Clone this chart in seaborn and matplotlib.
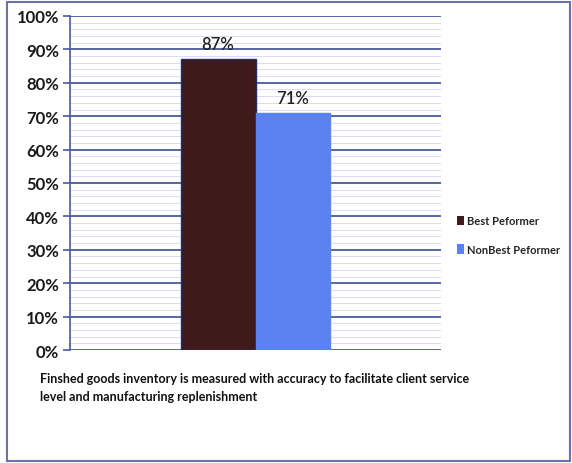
import matplotlib
matplotlib.use("Agg")
import matplotlib.pyplot as plt
import matplotlib.patches as mpatches
import numpy as np
import pandas as pd
import seaborn as sns

# Data
categories = ["Finished goods inventory"]
series = ["Best Peformer", "NonBest Peformer"]
values = [87, 71]
colors = ["#3f1a1a", "#5b82ee"]
y_ticks = list(range(0, 101, 10))
caption = ("Finshed goods inventory is measured with accuracy to facilitate client service\n"
           "level and manufacturing replenishment")

df = pd.DataFrame({"cat": categories * len(series), "series": series, "value": values})

sns.set_theme(style="white")
plt.rcParams["font.family"] = ["Lato", "DejaVu Sans"]

fig = plt.figure(figsize=(5.72, 4.64), dpi=100)
ax = fig.add_axes([70 / 572, 1 - 351 / 464, (441 - 70) / 572, (351 - 17) / 464])

sns.barplot(data=df, x="cat", y="value", hue="series", palette=colors,
            width=0.404, ax=ax, legend=False, saturation=1)

for patch, c in zip(ax.patches, colors):
    patch.set_facecolor(c)
    patch.set_edgecolor("#1f2f6a" if c == colors[0] else c)
    patch.set_linewidth(1.0)
    patch.set_zorder(3)

for cont in ax.containers:
    ax.bar_label(cont, labels=[f"{v:.0f}%" for v in cont.datavalues],
                 padding=5, fontsize=12, fontweight="semibold", color="#222222")

ax.set_xlim(-0.5, 0.5)
ax.set_ylim(0, 100)
ax.set_yticks(y_ticks)
ax.set_yticklabels([f"{t}%" for t in y_ticks], fontsize=12, fontweight="bold",
                   color="#1a1a1a")
ax.set_yticks(np.arange(0, 101, 2), minor=True)
ax.set_xticks([])
ax.set_xlabel("")
ax.set_ylabel("")

ax.grid(axis="y", which="minor", color="#d9dcf2", linewidth=0.7, zorder=0)
ax.grid(axis="y", which="major", color="#4a5b96", linewidth=1.3, zorder=1)
ax.set_axisbelow(True)

for side in ["top", "right", "bottom"]:
    ax.spines[side].set_visible(False)
ax.spines["left"].set_color("#4a5b96")
ax.spines["left"].set_linewidth(1.2)
ax.tick_params(axis="y", which="major", left=True, length=5, width=1.2,
               color="#4a5b96", pad=3)
ax.tick_params(axis="y", which="minor", left=False)

handles = [mpatches.Patch(facecolor=c, edgecolor="none", label=s)
           for c, s in zip(colors, series)]
fig.legend(handles=handles, loc="center left", bbox_to_anchor=(447 / 572, 1 - 236 / 464),
           frameon=False, prop={"weight": "bold", "size": 8}, handlelength=0.6,
           handleheight=0.9, handletextpad=0.3, labelspacing=1.6)

fig.text(40 / 572, 1 - 373 / 464, caption, ha="left", va="top", fontsize=9,
         fontweight="bold", color="#111111", linespacing=1.6)

fig.patches.append(mpatches.Rectangle((7 / 572, 2 / 464), 563 / 572, 459 / 464,
                                      transform=fig.transFigure, fill=False,
                                      edgecolor="#6b73a6", linewidth=1.5))

fig.savefig("out.png", dpi=100)
